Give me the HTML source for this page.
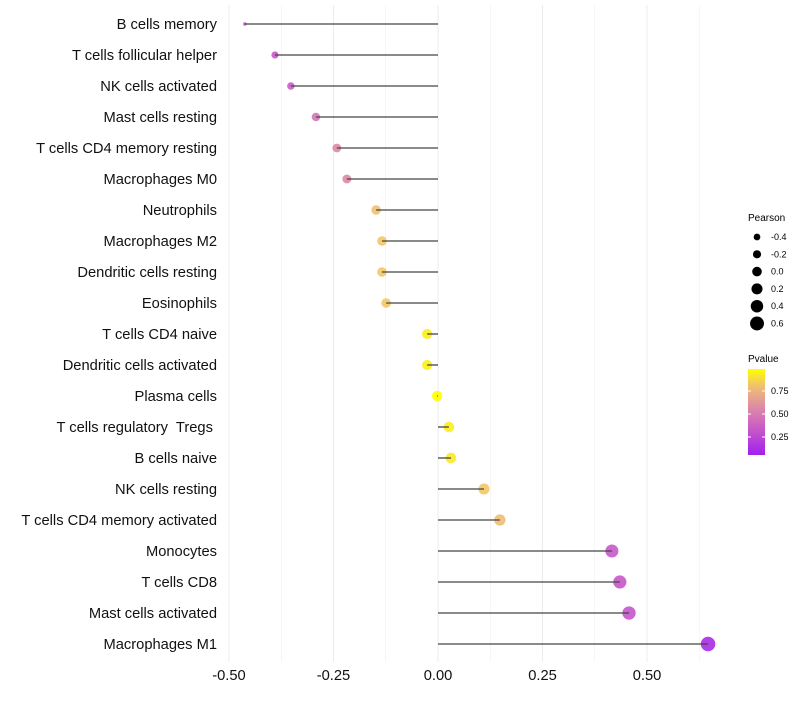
<!DOCTYPE html>
<html><head><meta charset="utf-8"><style>
body{margin:0;background:#fff;font-family:"Liberation Sans",sans-serif;}
svg text{font-family:"Liberation Sans",sans-serif;white-space:pre;}
</style></head><body>
<svg id="chart" width="800" height="700">
<defs><linearGradient id="pg" x1="0" y1="1" x2="0" y2="0">
<stop offset="0" stop-color="#A020F0"/><stop offset="0.3" stop-color="#C858C8"/><stop offset="0.55" stop-color="#DC8AA6"/><stop offset="0.8" stop-color="#F0C070"/><stop offset="1" stop-color="#FFFF00"/></linearGradient></defs>
<g id="grid"></g>
<g id="marks"></g>
<g id="ylabels"></g>
<g id="xlabels"></g>
<g font-size="9">
<text x="748" y="221" font-size="10">Pearson</text>
<g id="sizeLegend"></g>
</g>
<g font-size="9">
<text x="748" y="362" font-size="10">Pvalue</text>
<rect x="748" y="369" width="17" height="86" fill="url(#pg)"/>
<line x1="748" y1="391" x2="751" y2="391" stroke="#fff"/><line x1="762" y1="391" x2="765" y2="391" stroke="#fff"/>
<line x1="748" y1="414" x2="751" y2="414" stroke="#fff"/><line x1="762" y1="414" x2="765" y2="414" stroke="#fff"/>
<line x1="748" y1="437" x2="751" y2="437" stroke="#fff"/><line x1="762" y1="437" x2="765" y2="437" stroke="#fff"/>
<text x="771" y="394">0.75</text><text x="771" y="417">0.50</text><text x="771" y="440">0.25</text>
</g>
</svg>
<script>
const categories=["B cells memory","T cells follicular helper","NK cells activated","Mast cells resting","T cells CD4 memory resting","Macrophages M0","Neutrophils","Macrophages M2","Dendritic cells resting","Eosinophils","T cells CD4 naive","Dendritic cells activated","Plasma cells","T cells regulatory  Tregs ","B cells naive","NK cells resting","T cells CD4 memory activated","Monocytes","T cells CD8","Mast cells activated","Macrophages M1"];
const pearson=[-0.462,-0.39,-0.352,-0.292,-0.242,-0.218,-0.148,-0.134,-0.134,-0.124,-0.026,-0.026,-0.002,0.026,0.031,0.110,0.148,0.416,0.435,0.457,0.646];
const pvalue=[0.25,0.3,0.33,0.45,0.55,0.55,0.8,0.82,0.82,0.82,0.95,0.95,1.0,0.95,0.93,0.82,0.78,0.3,0.29,0.28,0.06];
const xTicks=[-0.5,-0.25,0,0.25,0.5];
const xTickLabels=["-0.50","-0.25","0.00","0.25","0.50"];
const sizeBreaks=[-0.4,-0.2,0.0,0.2,0.4,0.6];
const sizeLabels=["-0.4","-0.2","0.0","0.2","0.4","0.6"];
const NS="http://www.w3.org/2000/svg";
const xs=v=>438+v*418;
const ys=i=>24+i*31;
const rs=v=>v<-0.44?1.7:(v<-0.3?3.6+(v+0.39)*4:5.2+3.2*v);
const rl=v=>4.8+3.6*v;
const stops=[[0,[160,32,240]],[0.3,[200,88,200]],[0.55,[220,138,166]],[0.8,[240,192,112]],[1,[255,255,0]]];
function col(p){p=Math.max(0,Math.min(1,p));for(let k=1;k<stops.length;k++){if(p<=stops[k][0]){const a=stops[k-1],b=stops[k],t=(p-a[0])/(b[0]-a[0]);return `rgb(${a[1].map((c,j)=>Math.round(c+(b[1][j]-c)*t)).join(',')})`;}}return 'rgb(255,255,0)';}
function mk(tag,attrs,parent){const e=document.createElementNS(NS,tag);for(const k in attrs)e.setAttribute(k,attrs[k]);parent.appendChild(e);return e;}
const grid=document.getElementById('grid');
for(let v=-0.5;v<=0.626;v+=0.125){mk('line',{x1:xs(v),x2:xs(v),y1:5,y2:662,stroke:'#ececec','stroke-width':Math.abs((v*4)%1)<1e-6?1:0.5},grid);}
const marks=document.getElementById('marks');
categories.forEach((c,i)=>{
 const d=mk('circle',{cx:xs(pearson[i]),cy:ys(i),r:rs(pearson[i]),fill:col(pvalue[i]),'fill-opacity':0.9},marks);
 
 
 const ln=mk('line',{x1:xs(0),x2:xs(pearson[i]),y1:ys(i),y2:ys(i),stroke:'#444','stroke-width':1.3},marks);
 
 
 const t=mk('text',{x:217,y:ys(i)+5,'text-anchor':'end','font-size':14.7,fill:'#111'},document.getElementById('ylabels'));
 t.textContent=c;
 
 
});
xTicks.forEach((v,i)=>{const t=mk('text',{x:xs(v),y:680,'text-anchor':'middle','font-size':14.7,fill:'#111'},document.getElementById('xlabels'));t.textContent=xTickLabels[i];
 
 });
const sl=document.getElementById('sizeLegend');
sizeBreaks.forEach((v,i)=>{const y=237+i*17.3;
 const c=mk('circle',{cx:757,cy:y,r:rl(v)},sl);
 
 
 const t=mk('text',{x:771,y:y+3},sl);t.textContent=sizeLabels[i];
 
 });
</script>
</body></html>
